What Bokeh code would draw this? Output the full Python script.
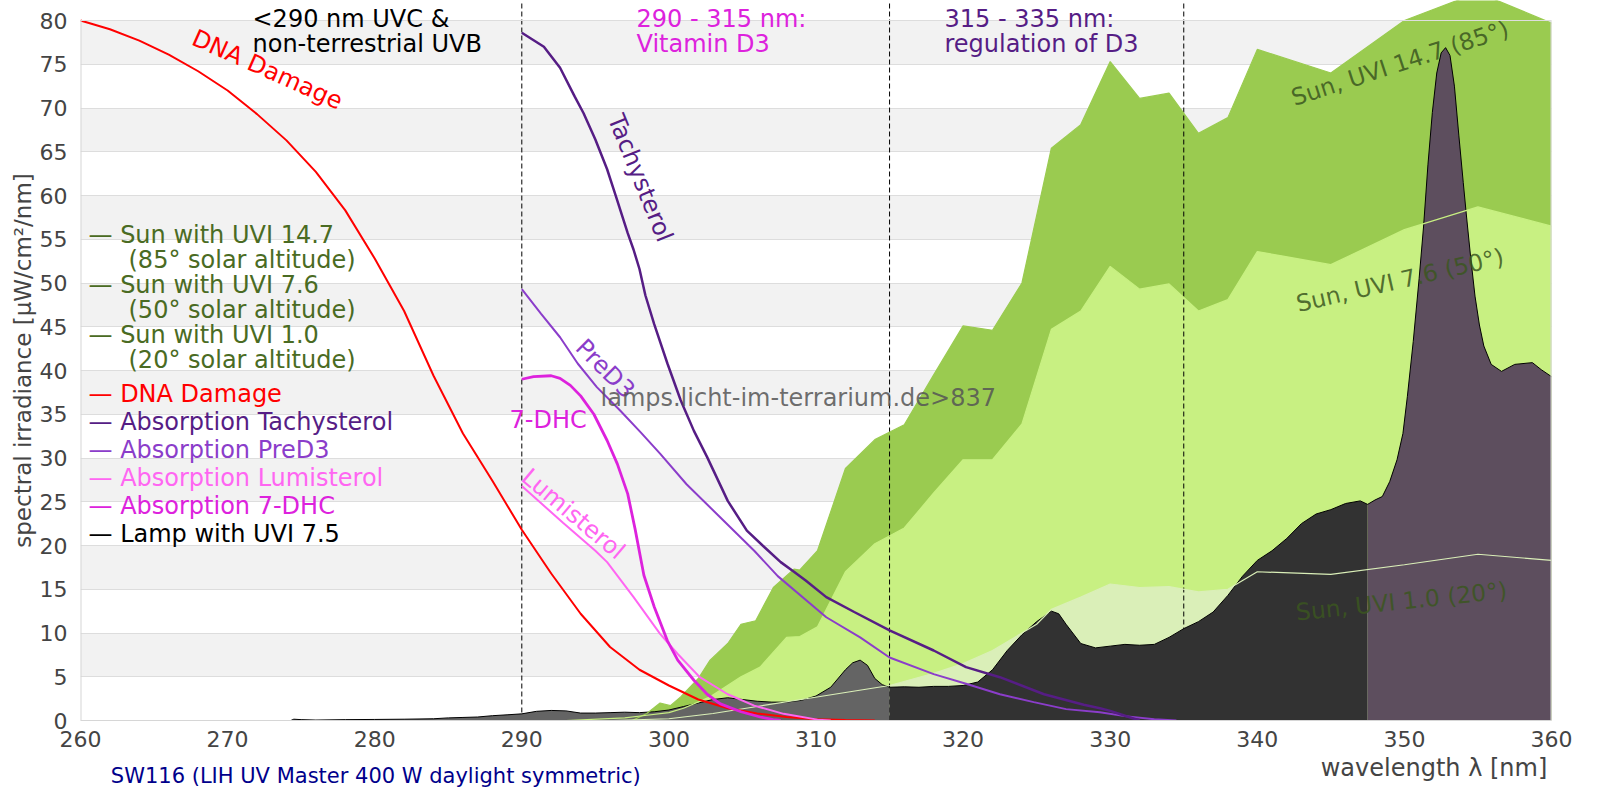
import numpy as np
from bokeh.plotting import figure
from bokeh.layouts import column
from bokeh.models import Label, Range1d, SingleIntervalTicker, Span
from bokeh.core.properties import value
from bokeh.embed import file_html
from bokeh.resources import INLINE

FONT = "DejaVu Sans"

# ---------------- data ----------------
x_ticks_interval = 10
y_ticks_interval = 5
region_bounds = [290, 315, 335]

dna_wl = [260, 262, 264, 266, 268, 270, 272, 274, 276, 278, 280, 282, 284, 286, 288, 290,
          292, 294, 296, 298, 300, 302, 304, 306, 308, 310, 312, 314]
dna = [80.0, 79.0, 77.7, 76.1, 74.2, 72.0, 69.3, 66.3, 62.7, 58.3, 52.8, 46.8, 39.4, 32.8, 27.4, 21.8,
       16.8, 12.2, 8.4, 5.8, 4.0, 2.4, 1.4, 0.8, 0.4, 0.15, 0.05, 0.0]

tachy_wl = [290, 291.5, 292.6, 293.6, 294.2, 295.0, 295.8, 296.4, 297.2, 297.6, 298.0, 298.4, 299.0,
            299.9, 300.8, 301.7, 302.6, 304.0, 305.3, 306.5, 307.6, 308.5, 309.3, 310.7, 312.6, 315.0,
            318.0, 320.2, 322.5, 325.5, 328.2, 329.3, 330.0, 331.0, 332.0]
tachy = [78.6, 77.0, 74.6, 71.3, 69.4, 66.4, 63.0, 59.9, 55.7, 53.8, 51.6, 48.6, 45.3,
         40.8, 36.6, 33.1, 30.1, 25.1, 21.7, 19.8, 18.1, 17.0, 16.0, 14.1, 12.4, 10.3,
         8.0, 6.1, 4.95, 3.0, 1.8, 1.4, 1.1, 0.55, 0.0]

pred3_wl = [290, 291.3, 292.6, 293.8, 295.1, 296.7, 298.1, 299.4, 301.2, 303.5, 305.8, 307.4, 310.7,
            313.0, 315.0, 318.0, 320.2, 322.5, 324.8, 327.0, 329.3, 331.0, 333.0, 334.5]
pred3 = [49.3, 46.5, 43.8, 40.8, 38.1, 35.4, 32.9, 30.5, 27.0, 23.2, 19.4, 16.5, 11.8,
         9.5, 7.2, 5.3, 4.2, 3.0, 2.1, 1.3, 0.95, 0.5, 0.15, 0.0]

dhc_wl = [290, 290.8, 292.0, 292.6, 293.3, 294.0, 294.9, 295.8, 296.5, 297.2, 297.7, 298.3, 299.0,
          299.9, 300.6, 301.7, 302.6, 303.5, 304.9, 306.2, 307.1, 307.6]
dhc = [39.0, 39.3, 39.4, 39.1, 38.3, 37.1, 35.0, 32.0, 29.3, 25.9, 21.9, 16.6, 13.0,
       9.1, 6.9, 4.6, 3.0, 1.9, 1.0, 0.4, 0.1, 0.0]

lumi_wl = [290, 292.8, 295.0, 295.8, 297.6, 299.4, 300.6, 302.1, 304.0, 305.8, 307.8, 310.1, 311.0]
lumi = [26.8, 22.6, 19.4, 18.1, 14.1, 9.9, 7.6, 4.95, 3.0, 1.7, 0.76, 0.1, 0.0]

sun147_wl = [297.5, 298.5, 299.4, 300.1, 300.8, 302.0, 302.8, 304.0, 304.9, 305.9, 307.1, 308.5, 308.9,
             310.1, 312, 314, 316, 318, 320, 322, 324, 326, 328, 330, 332, 334, 336, 338, 340, 345,
             350, 355, 360]
sun147 = [0.0, 0.8, 2.0, 1.7, 2.7, 4.8, 6.9, 8.8, 11.0, 11.4, 15.2, 17.3, 17.2,
          19.4, 28.8, 32.1, 33.8, 39.5, 45.1, 44.6, 50.0, 65.4, 68.1, 75.3, 71.1, 71.7, 67.1, 68.9,
          76.7, 74.0, 80.0, 83.2, 79.7]

sun76_wl = [293, 297, 298.5, 300, 301, 302.8, 304.9, 306.2, 308, 308.9, 310.1, 312, 314, 316, 318,
            320, 322, 324, 326, 328, 330, 332, 334, 336, 338, 340, 345, 350, 355, 360]
sun76 = [0.0, 0.3, 0.6, 0.9, 1.4, 2.7, 5.0, 6.1, 9.5, 9.6, 10.7, 17.0, 20.2, 22.0, 26.0,
         29.8, 29.8, 33.9, 44.7, 46.8, 51.9, 49.3, 49.9, 46.8, 48.1, 53.6, 52.1, 56.1, 58.7, 56.5]

sun10_wl = [296, 300, 303, 306, 309, 312, 315, 318, 320, 322, 324, 325, 326, 328, 330, 332, 334,
            336, 338, 340, 345, 350, 355, 360]
sun10 = [0.0, 0.2, 0.8, 1.6, 2.4, 3.2, 4.0, 5.4, 6.5, 8.0, 10.0, 11.0, 12.7, 14.1, 15.6, 15.2, 15.3,
         14.7, 15.0, 17.0, 16.7, 17.8, 19.0, 18.3]

lamp_wl = [274.3, 274.5, 275, 276, 278, 280, 282, 284, 285, 286, 287, 288, 289, 290, 291, 292, 293,
           294, 295, 296, 297, 298, 299, 300, 301, 302, 303, 304, 305, 306, 307, 308, 309, 310, 311,
           312, 312.5, 313, 313.5, 314, 314.5, 315, 316, 317, 318, 319, 320, 321, 322, 323, 324, 325,
           326, 326.5, 327, 328, 329, 330, 331, 332, 333, 334, 335, 336, 337, 338, 339, 340, 341, 342,
           343, 344, 345, 346, 347, 347.5, 348, 348.5, 349, 349.5, 349.9, 350.2, 350.6, 351, 351.3,
           351.6, 351.9, 352.2, 352.5, 352.8, 353.1, 353.4, 353.7, 354.0, 354.2, 354.5, 354.8, 355.1,
           355.4, 355.9, 356.6, 357.5, 358.7, 359.3, 360]
lamp = [0.0, 0.15, 0.1, 0.05, 0.1, 0.12, 0.15, 0.2, 0.3, 0.35, 0.4, 0.55, 0.65, 0.76, 1.05, 1.15, 1.1,
        0.85, 0.85, 0.9, 0.95, 0.9, 1.0, 1.2, 1.6, 2.0, 2.4, 2.6, 2.4, 2.2, 2.1, 2.1, 2.3, 2.8, 3.8,
        5.8, 6.6, 6.9, 6.3, 4.8, 4.1, 3.8, 3.85, 3.8, 3.9, 3.9, 4.0, 4.4, 5.8, 8.0, 9.8, 11.3,
        12.5, 12.2, 11.0, 8.8, 8.3, 8.5, 8.7, 8.6, 8.7, 9.5, 10.5, 11.3, 12.4, 14.3, 16.5, 18.3, 19.4, 20.8,
        22.5, 23.6, 24.1, 24.8, 25.1, 24.7, 25.2, 25.6, 27.3, 29.8, 32.8, 37.0, 43.3, 50.5, 56.4,
        63.5, 69.5, 74.0, 76.3, 76.9, 76.0, 72.5, 66.9, 61.5, 58.0, 53.0, 48.5, 45.2,
        42.8, 40.7, 39.9, 40.7, 40.9, 40.1, 39.3]
lamp_band_edges = [274.3, 315, 347.5, 360]

# ---------------- styles ----------------
C_SUN147 = "#9acb50"
C_SUN76 = "#c8f082"
C_SUN10 = "#daefb8"
C_LAMP = ["#646464", "#323232", "#5d4e5e"]
C_DNA = "#ff0000"
C_TACHY = "#561d85"
C_PRED3 = "#8b3dca"
C_LUMI = "#ff66f2"
C_DHC = "#dd22dd"
C_SUNTXT = "#4a6b23"
C_SUNLBL = "#3b5620"
C_GRID = "#dddddd"
C_SPINE = "#d6d6d6"
C_TICK = "#444444"
TXT = 24

# layout (screen pixels of the page)
FRAME_L, FRAME_R, Y80_PX, PX_PER_NM, PX_PER_UNIT = 80, 1551, 20, 14.71, 8.75
MAIN_H, STRIP_H, W = 752, 48, 1600
FRAME_B = 720

X0, X1 = 260, 360
Y0 = 0
Y1 = 80 + Y80_PX / PX_PER_UNIT


def px2x(px):
    return X0 + (px - FRAME_L) / PX_PER_NM


def py2y(py):
    return 80 - (py - Y80_PX) / PX_PER_UNIT


p = figure(width=W, height=MAIN_H, output_backend="svg", toolbar_location=None,
           x_range=Range1d(X0, X1), y_range=Range1d(Y0, Y1),
           min_border_left=FRAME_L, min_border_right=W - FRAME_R, min_border_top=0,
           min_border_bottom=MAIN_H - FRAME_B)
p.outline_line_color = None
p.background_fill_color = "white"
p.border_fill_color = "white"

p.xgrid.grid_line_color = None
p.ygrid.grid_line_color = C_GRID
p.ygrid.band_fill_color = "#f2f2f2"
p.ygrid.band_fill_alpha = 1.0
p.xaxis.ticker = SingleIntervalTicker(interval=x_ticks_interval, num_minor_ticks=0)
p.yaxis.ticker = SingleIntervalTicker(interval=y_ticks_interval, num_minor_ticks=0)
for ax in (p.xaxis, p.yaxis):
    ax.major_tick_line_color = None
    ax.minor_tick_line_color = None
    ax.major_label_text_font = FONT
    ax.major_label_text_font_size = "22px"
    ax.major_label_text_color = C_TICK
    ax.axis_label_text_font = FONT
    ax.axis_label_text_font_size = "23px"
    ax.axis_label_text_color = C_TICK
    ax.axis_label_text_font_style = "normal"
p.xaxis.axis_line_color = C_SPINE
p.yaxis.axis_line_color = None
p.xaxis.major_label_standoff = 4
p.yaxis.major_label_standoff = 7
p.yaxis.axis_label = "spectral irradiance [µW/cm²/nm]"
p.yaxis.axis_label_standoff = 1

# sun areas
p.varea(x=sun147_wl, y1=0, y2=sun147, fill_color=C_SUN147)
p.varea(x=sun76_wl, y1=0, y2=sun76, fill_color=C_SUN76)
p.varea(x=sun10_wl, y1=0, y2=sun10, fill_color=C_SUN10)

# region boundaries (dashed)
nb = len(region_bounds)
p.segment(x0=region_bounds, y0=[Y0] * nb, x1=region_bounds, y1=[Y1] * nb,
          line_color="black", line_width=1, line_dash="5 3")

# lamp
lw = np.array(lamp_wl)
lv = np.array(lamp)
for lo, hi, col in zip(lamp_band_edges[:-1], lamp_band_edges[1:], C_LAMP):
    m = (lw >= lo) & (lw <= hi)
    p.varea(x=lw[m], y1=0, y2=lv[m], fill_color=col)
p.line(lamp_wl, lamp, line_color="black", line_width=1)

# sun lines
p.line(sun147_wl, sun147, line_color=C_SUN147, line_width=1.2)
p.line(sun76_wl, sun76, line_color=C_SUN76, line_width=1.2)
p.line(sun10_wl, sun10, line_color=C_SUN10, line_width=1.2)

# absorption curves
p.line(dna_wl, dna, line_color=C_DNA, line_width=2)
p.line(lumi_wl, lumi, line_color=C_LUMI, line_width=2)
p.line(dhc_wl, dhc, line_color=C_DHC, line_width=2.8)
p.line(pred3_wl, pred3, line_color=C_PRED3, line_width=2)
p.line(tachy_wl, tachy, line_color=C_TACHY, line_width=2.5)

# spines: top (80), left and right up to 80
p.add_layout(Span(location=80, dimension="width", line_color=C_GRID, line_width=1))
p.segment(x0=[X0, X1], y0=[Y0, Y0], x1=[X0, X1], y1=[80, 80], line_color=C_SPINE, line_width=2)


def lab(text, x, y, color, size=TXT, align="left", angle_deg=0.0, alpha=1.0):
    p.add_layout(Label(x=x, y=y, text=text, text_color=color, text_font=FONT,
                       text_font_size=f"{size}px", text_align=align, text_baseline="middle",
                       angle=np.deg2rad(angle_deg), text_alpha=alpha))


# region captions (y given as visual centre in page pixels)
lab("<290 nm UVC &", px2x(252), py2y(18), "black")
lab("non-terrestrial UVB", px2x(252), py2y(43), "black")
lab("290 - 315 nm:", px2x(636), py2y(18), C_DHC)
lab("Vitamin D3", px2x(636), py2y(43), C_DHC)
lab("315 - 335 nm:", px2x(944), py2y(18), C_TACHY)
lab("regulation of D3", px2x(944), py2y(43), C_TACHY)

# curve labels
lab("DNA Damage", 272.7, 74.4, C_DNA, align="center", angle_deg=-24)
lab("Tachysterol", 298.05, 62.0, C_TACHY, align="center", angle_deg=-68)
lab("PreD3", 295.67, 40.2, C_PRED3, align="center", angle_deg=-45)
lab("Lumisterol", 293.5, 23.6, C_LUMI, align="center", angle_deg=-40)
lab("7-DHC", px2x(509), py2y(419.5), C_DHC)
lab("lamps.licht-im-terrarium.de>837", px2x(600), py2y(397), "#555555", alpha=0.85)
lab("Sun, UVI 14.7 (85°)", 349.7, 75.1, C_SUNLBL, size=23.5, align="center", angle_deg=18, alpha=0.85)
lab("Sun, UVI 7.6 (50°)", 349.7, 50.3, C_SUNLBL, size=23.5, align="center", angle_deg=13, alpha=0.85)
lab("Sun, UVI 1.0 (20°)", 349.8, 13.6, C_SUNLBL, size=23.5, align="center", angle_deg=6, alpha=0.85)

# legend
legend_sun = ["— Sun with UVI 14.7", "— Sun with UVI 7.6", "— Sun with UVI 1.0"]
legend_sun_sub = ["(85° solar altitude)", "(50° solar altitude)", "(20° solar altitude)"]
legend_abs = ["— DNA Damage", "— Absorption Tachysterol", "— Absorption PreD3",
              "— Absorption Lumisterol", "— Absorption 7-DHC", "— Lamp with UVI 7.5"]
legend_abs_colors = [C_DNA, C_TACHY, C_PRED3, C_LUMI, C_DHC, "black"]
for i, (t, s_) in enumerate(zip(legend_sun, legend_sun_sub)):
    lab(t, px2x(88), py2y(234.5 + 50 * i), C_SUNTXT)
    lab(s_, px2x(128), py2y(259 + 50 * i), C_SUNTXT)
for i, (t, c) in enumerate(zip(legend_abs, legend_abs_colors)):
    lab(t, px2x(88), py2y(393.5 + 28 * i), c)

# bottom strip with x-axis caption and lamp name
s = figure(width=W, height=STRIP_H, output_backend="svg", toolbar_location=None,
           x_range=Range1d(0, W), y_range=Range1d(STRIP_H, 0),
           x_axis_type=None, y_axis_type=None, min_border=0)
s.outline_line_color = None
s.grid.visible = False
s.text(x=[1349], y=[767.5 - MAIN_H], text=["wavelength λ [nm]"], text_align="left",
       text_baseline="middle", text_font=value(FONT), text_font_size=value(f"{TXT}px"),
       text_color=C_TICK)
s.text(x=[33], y=[775 - MAIN_H], text=["SW116 (LIH UV Master 400 W daylight symmetric)"],
       text_align="left", text_baseline="middle", text_font=value(FONT),
       text_font_size=value("21px"), text_color="#00008b")

open("out.html", "w").write(file_html(column(p, s), INLINE))
